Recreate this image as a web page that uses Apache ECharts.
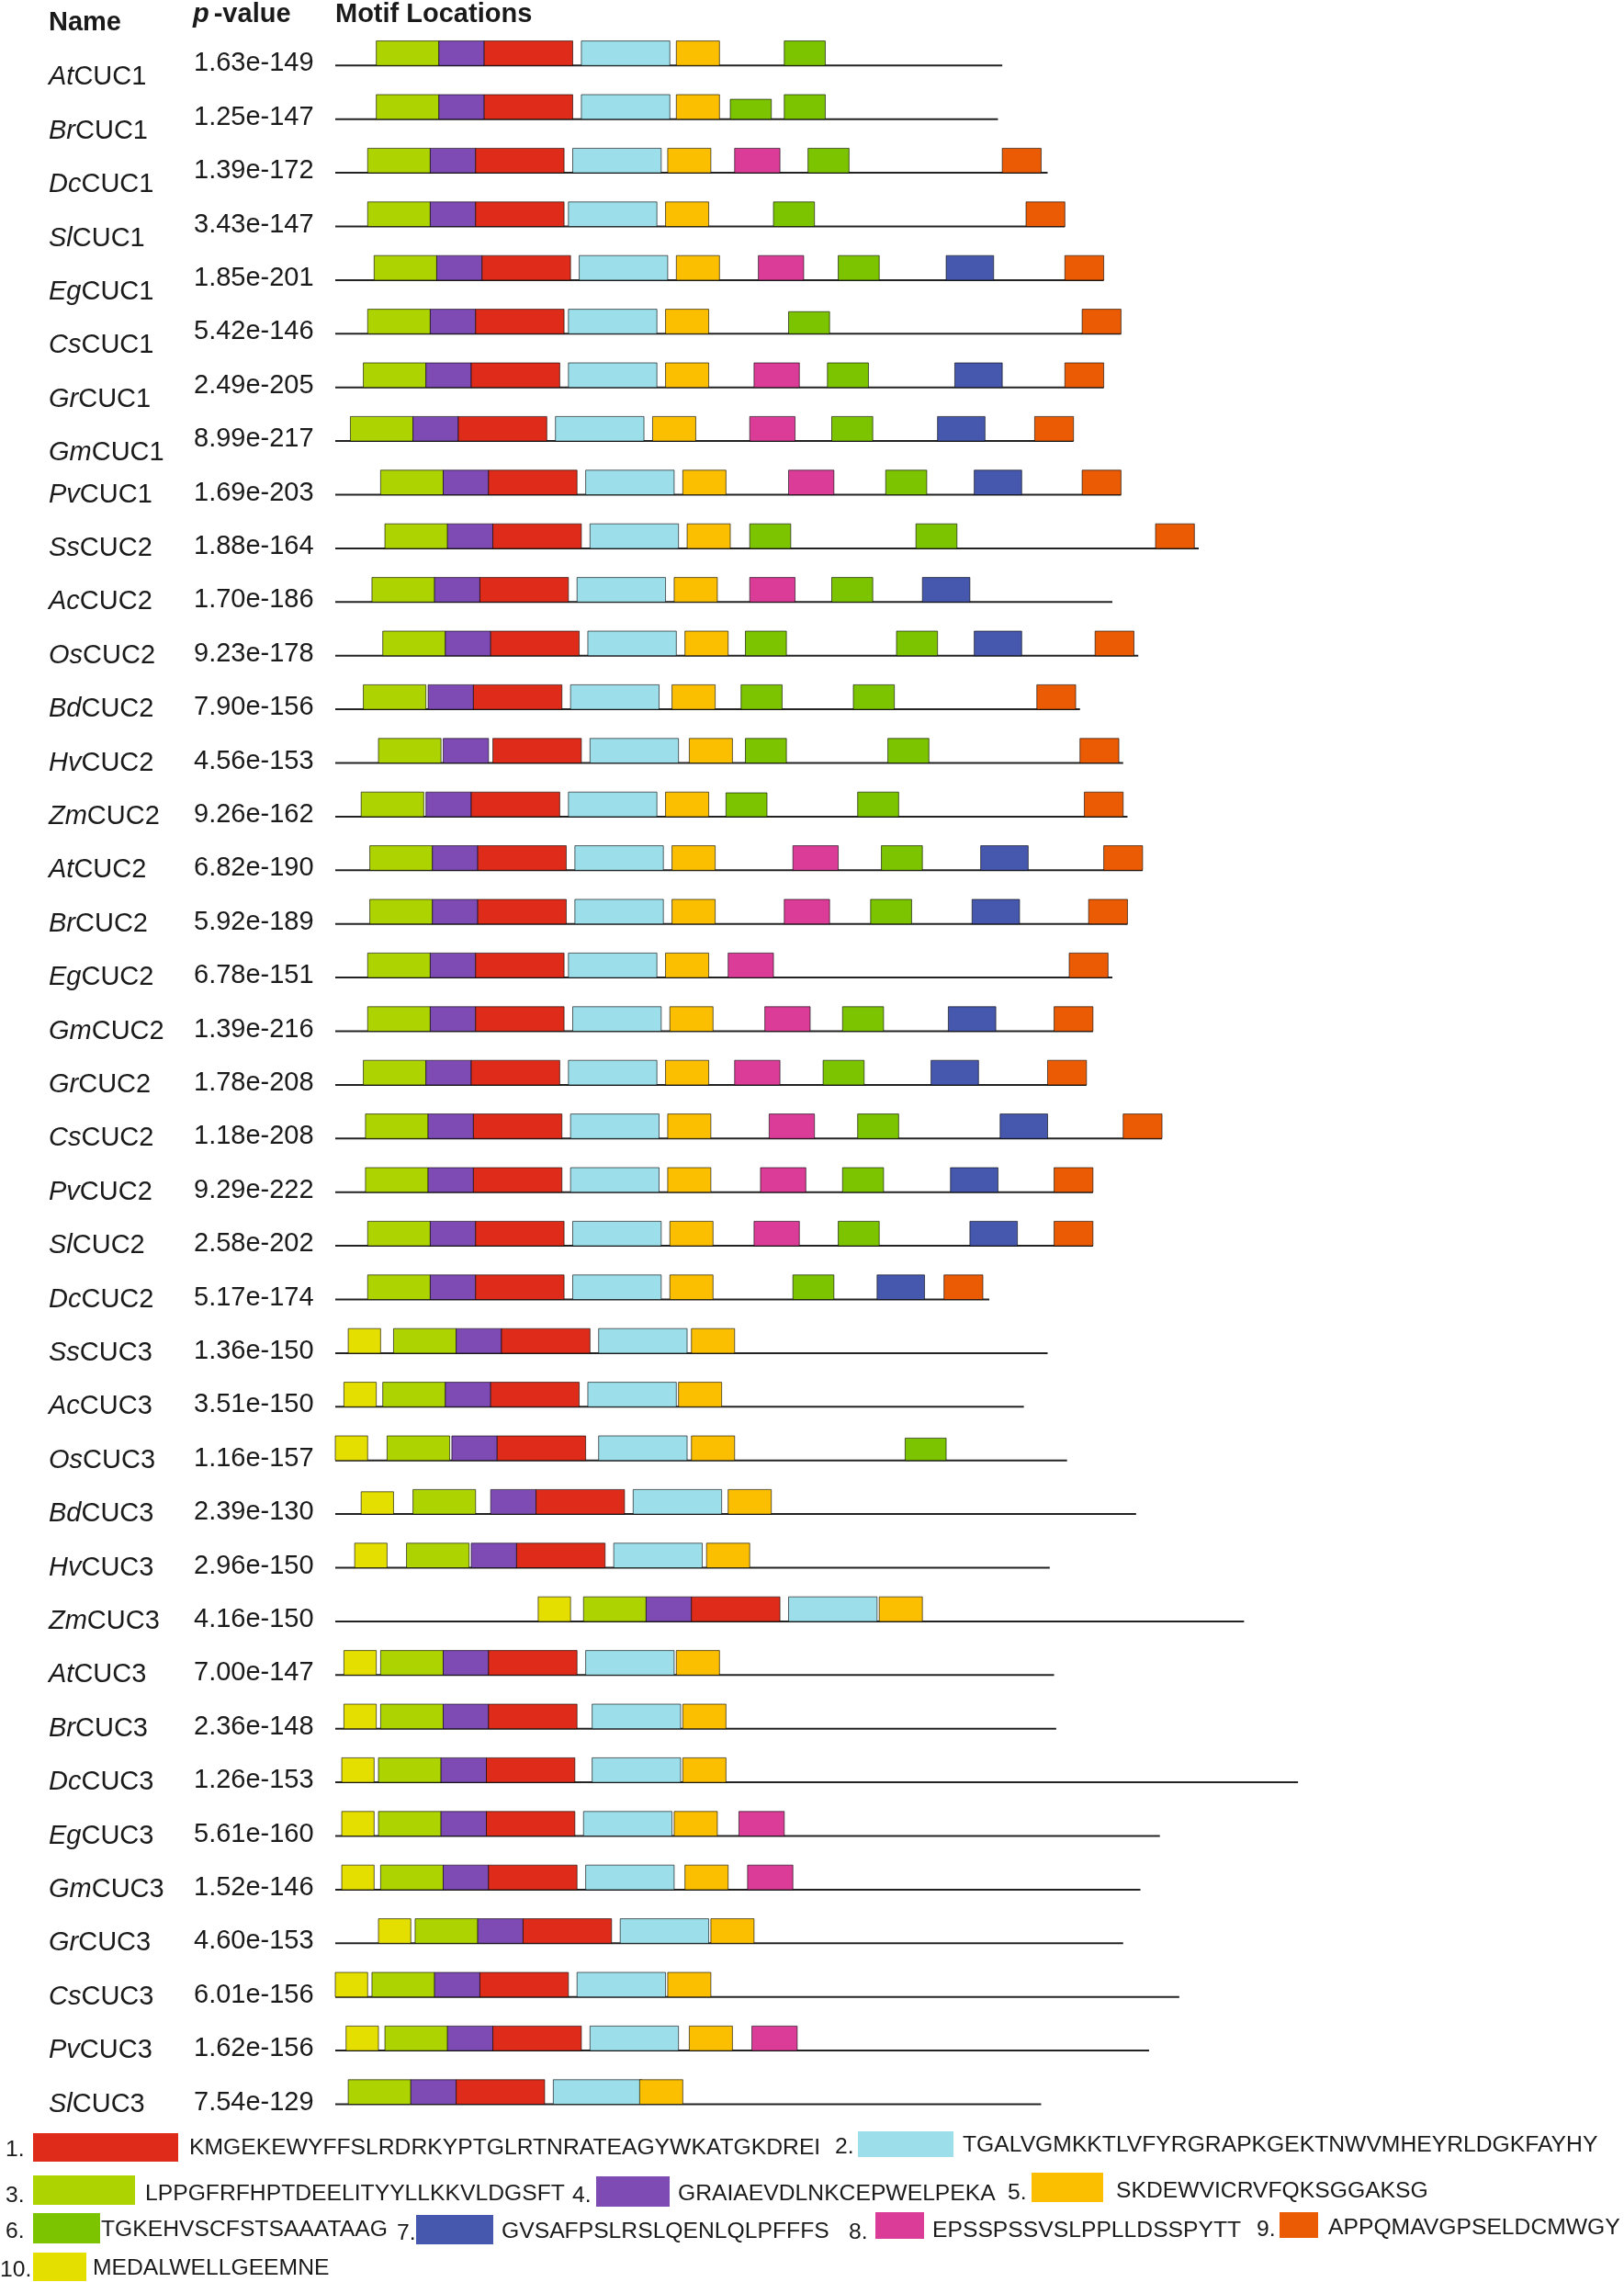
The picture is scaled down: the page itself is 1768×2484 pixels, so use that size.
<!DOCTYPE html>
<html><head><meta charset="utf-8">
<script src="https://cdn.jsdelivr.net/npm/echarts@6/dist/echarts.min.js"></script>
<style>html,body{margin:0;padding:0;background:#fff}#chart{width:1768px;height:2484px}</style>
</head><body><div id="chart"></div>
<script>
// ---------- DATA ----------
const motifNumbers = [1, 2, 3, 4, 5, 6, 7, 8, 9, 10];
const motifSequences = [
  'KMGEKEWYFFSLRDRKYPTGLRTNRATEAGYWKATGKDREI',
  'TGALVGMKKTLVFYRGRAPKGEKTNWVMHEYRLDGKFAYHY',
  'LPPGFRFHPTDEELITYYLLKKVLDGSFT',
  'GRAIAEVDLNKCEPWELPEKA',
  'SKDEWVICRVFQKSGGAKSG',
  'TGKEHVSCFSTSAAATAAG',
  'GVSAFPSLRSLQENLQLPFFFS',
  'EPSSPSSVSLPPLLDSSPYTT',
  'APPQMAVGPSELDCMWGY',
  'MEDALWELLGEEMNE'
];
const motifLengths = [41, 41, 29, 21, 20, 19, 22, 21, 18, 15];

// CUC1 group
const cuc1Species = ['At','Br','Dc','Sl','Eg','Cs','Gr','Gm','Pv'];
const cuc1PValues = ['1.63e-149','1.25e-147','1.39e-172','3.43e-147','1.85e-201','5.42e-146','2.49e-205','8.99e-217','1.69e-203'];
const cuc1Lengths = [309, 307, 330, 338, 356, 364, 356, 342, 364];
// sites: [motif, start(aa), relative height]
const cuc1Sites = [
  [[3,19],[4,48],[1,69],[2,114],[5,158],[6,208]],
  [[3,19],[4,48],[1,69],[2,114],[5,158],[6,183,0.81],[6,208]],
  [[3,15],[4,44],[1,65],[2,110],[5,154],[8,185],[6,219],[9,309]],
  [[3,15],[4,44],[1,65],[2,108],[5,153],[6,203],[9,320]],
  [[3,18],[4,47],[1,68],[2,113],[5,158],[8,196],[6,233],[7,283],[9,338]],
  [[3,15],[4,44],[1,65],[2,108],[5,153],[6,210,0.9],[9,346]],
  [[3,13],[4,42],[1,63],[2,108],[5,153],[8,194],[6,228],[7,287],[9,338]],
  [[3,7],[4,36],[1,57],[2,102],[5,147],[8,192],[6,230],[7,279],[9,324]],
  [[3,21],[4,50],[1,71],[2,116],[5,161],[8,210],[6,255],[7,296],[9,346]]
];

// CUC2 group
const cuc2Species = ['Ss','Ac','Os','Bd','Hv','Zm','At','Br','Eg','Gm','Gr','Cs','Pv','Sl','Dc'];
const cuc2PValues = ['1.88e-164','1.70e-186','9.23e-178','7.90e-156','4.56e-153','9.26e-162','6.82e-190','5.92e-189','6.78e-151','1.39e-216','1.78e-208','1.18e-208','9.29e-222','2.58e-202','5.17e-174'];
const cuc2Lengths = [400, 360, 372, 345, 365, 367, 374, 367, 360, 351, 348, 383, 351, 351, 303];
const cuc2Sites = [
  [[3,23],[4,52],[1,73],[2,118],[5,163],[6,192],[6,269],[9,380]],
  [[3,17],[4,46],[1,67],[2,112],[5,157],[8,192],[6,230],[7,272]],
  [[3,22],[4,51],[1,72],[2,117],[5,162],[6,190],[6,260],[7,296],[9,352]],
  [[3,13],[4,43],[1,64],[2,109],[5,156],[6,188],[6,240],[9,325]],
  [[3,20],[4,50],[1,73],[2,118],[5,164],[6,190],[6,256],[9,345]],
  [[3,12],[4,42],[1,63],[2,108],[5,153],[6,181,0.97],[6,242],[9,347]],
  [[3,16],[4,45],[1,66],[2,111],[5,156],[8,212],[6,253],[7,299],[9,356]],
  [[3,16],[4,45],[1,66],[2,111],[5,156],[8,208],[6,248],[7,295],[9,349]],
  [[3,15],[4,44],[1,65],[2,108],[5,153],[8,182],[9,340]],
  [[3,15],[4,44],[1,65],[2,110],[5,155],[8,199],[6,235],[7,284],[9,333]],
  [[3,13],[4,42],[1,63],[2,108],[5,153],[8,185],[6,226],[7,276],[9,330]],
  [[3,14],[4,43],[1,64],[2,109],[5,154],[8,201],[6,242],[7,308],[9,365]],
  [[3,14],[4,43],[1,64],[2,109],[5,154],[8,197],[6,235],[7,285],[9,333]],
  [[3,15],[4,44],[1,65],[2,110],[5,155],[8,194],[6,233],[7,294],[9,333]],
  [[3,15],[4,44],[1,65],[2,110],[5,155],[6,212],[7,251],[9,282]]
];

// CUC3 group
const cuc3Species = ['Ss','Ac','Os','Bd','Hv','Zm','At','Br','Dc','Eg','Gm','Gr','Cs','Pv','Sl'];
const cuc3PValues = ['1.36e-150','3.51e-150','1.16e-157','2.39e-130','2.96e-150','4.16e-150','7.00e-147','2.36e-148','1.26e-153','5.61e-160','1.52e-146','4.60e-153','6.01e-156','1.62e-156','7.54e-129'];
const cuc3Lengths = [330, 319, 339, 371, 331, 421, 333, 334, 446, 382, 373, 365, 391, 377, 327];
const cuc3Sites = [
  [[10,6],[3,27],[4,56],[1,77],[2,122],[5,165]],
  [[10,4],[3,22],[4,51],[1,72],[2,117],[5,159]],
  [[10,0],[3,24],[4,54],[1,75],[2,122],[5,165],[6,264,0.91]],
  [[10,12,0.91],[3,36],[4,72],[1,93],[2,138],[5,182]],
  [[10,9],[3,33],[4,63],[1,84],[2,129],[5,172]],
  [[10,94],[3,115],[4,144],[1,165],[2,210],[5,252]],
  [[10,4],[3,21],[4,50],[1,71],[2,116],[5,158]],
  [[10,4],[3,21],[4,50],[1,71],[2,119],[5,161]],
  [[10,3],[3,20],[4,49],[1,70],[2,119],[5,161]],
  [[10,3],[3,20],[4,49],[1,70],[2,115],[5,157],[8,187]],
  [[10,3],[3,21],[4,50],[1,71],[2,116],[5,162],[8,191]],
  [[10,20],[3,37],[4,66],[1,87],[2,132],[5,174]],
  [[10,0],[3,17],[4,46],[1,67],[2,112],[5,154]],
  [[10,5],[3,23],[4,52],[1,73],[2,118],[5,164],[8,193]],
  [[3,6],[4,35],[1,56],[2,101],[5,141]]
];

// ---------- STYLE ----------
const motifColors = ['#DF2C1A','#9CDEEA','#ADD400','#7E4AB4','#FBBF00','#7CC400','#4657AE','#DA3C97','#EB5B04','#E5DF00'];
const FONT = '"Liberation Sans", Arial, Helvetica, sans-serif';
const TXT = '#1a1a1a';
const BOX_H = 26.7;
const LEG_FONT = '24.7px ' + FONT;

// ---------- BUILD ----------
const rows = [];
[['CUC1', cuc1Species, cuc1PValues, cuc1Lengths, cuc1Sites],
 ['CUC2', cuc2Species, cuc2PValues, cuc2Lengths, cuc2Sites],
 ['CUC3', cuc3Species, cuc3PValues, cuc3Lengths, cuc3Sites]].forEach(([gene, sp, pv, len, sites]) => {
  sp.forEach((s, i) => rows.push({species: s, gene: gene, pValue: pv[i], length: len[i], sites: sites[i]}));
});

const backboneData = rows.map((r, i) => [0, i, r.length]);
const siteData = [];
rows.forEach((r, i) => r.sites.forEach(s => siteData.push([s[1], i, s[0], s[2] || 1])));
const labelData = rows.map((r, i) => [0, i]);

// legend layout (pixels)
const legendLayout = [
  {nx: 6,    bx: 36,   by: 2322, bw: 158, bh: 31, tx: 206,  cy: 2338},
  {nx: 909,  bx: 934,  by: 2320, bw: 104, bh: 28, tx: 1048, cy: 2335},
  {nx: 6,    bx: 36,   by: 2368, bw: 111, bh: 32, tx: 158,  cy: 2388},
  {nx: 623,  bx: 649,  by: 2369, bw: 80,  bh: 33, tx: 738,  cy: 2388},
  {nx: 1097, bx: 1123, by: 2365, bw: 78,  bh: 32, tx: 1215, cy: 2385},
  {nx: 6,    bx: 36,   by: 2409, bw: 73,  bh: 33, tx: 110,  cy: 2427},
  {nx: 432,  bx: 453,  by: 2411, bw: 84,  bh: 32, tx: 546,  cy: 2429},
  {nx: 924,  bx: 953,  by: 2408, bw: 53,  bh: 29, tx: 1015, cy: 2428},
  {nx: 1368, bx: 1393, by: 2408, bw: 42,  bh: 28, tx: 1446, cy: 2425},
  {nx: 0,    bx: 36,   by: 2452, bw: 58,  bh: 31, tx: 101,  cy: 2469}
];

const graphics = [
  {type: 'text', left: 53, top: 10, style: {text: 'Name', font: 'bold 29px ' + FONT, fill: TXT}},
  {type: 'text', left: 210, top: 1, style: {text: '{i|p}-value', font: 'bold 29px ' + FONT, fill: TXT,
    rich: {i: {fontStyle: 'italic', fontWeight: 'bold', fontSize: 29, fontFamily: FONT, fill: TXT, padding: [0, 5, 0, 0]}}}},
  {type: 'text', left: 365, top: 1, style: {text: 'Motif Locations', font: 'bold 29px ' + FONT, fill: TXT}}
];
legendLayout.forEach((L, k) => {
  graphics.push({type: 'text', x: L.nx, y: L.cy + 2, style: {text: motifNumbers[k] + '.', font: LEG_FONT, fill: TXT, verticalAlign: 'middle'}});
  graphics.push({type: 'rect', shape: {x: L.bx, y: L.by, width: L.bw, height: L.bh}, style: {fill: motifColors[k]}});
  graphics.push({type: 'text', x: L.tx, y: L.cy, style: {text: motifSequences[k], font: LEG_FONT, fill: TXT, verticalAlign: 'middle'}});
});

const chart = echarts.init(document.getElementById('chart'), null, {renderer: 'canvas'});
chart.setOption({
  animation: false,
  backgroundColor: '#ffffff',
  grid: {left: 365, top: 42.1, width: 1057.5, height: 2277.6},
  xAxis: {type: 'value', min: 0, max: 450, show: false},
  yAxis: {type: 'category', inverse: true, data: rows.map(r => r.species + r.gene), show: false},
  graphic: graphics,
  series: [
    {
      type: 'custom', name: 'backbone', clip: false, z: 2,
      data: backboneData, encode: {x: [0, 2], y: 1},
      renderItem: function (params, api) {
        const i = api.value(1);
        const a = api.coord([0, i]);
        const b = api.coord([api.value(2), i]);
        return {type: 'line', shape: {x1: a[0], y1: a[1], x2: b[0], y2: b[1]}, style: {stroke: '#222', lineWidth: 2}};
      }
    },
    {
      type: 'custom', name: 'motifs', clip: false, z: 3,
      data: siteData, encode: {x: 0, y: 1},
      renderItem: function (params, api) {
        const start = api.value(0), i = api.value(1), m = api.value(2), rel = api.value(3);
        const a = api.coord([start, i]);
        const b = api.coord([start + motifLengths[m - 1], i]);
        const h = BOX_H * rel;
        return {type: 'rect', shape: {x: a[0], y: a[1] - h, width: b[0] - a[0], height: h},
          style: {fill: motifColors[m - 1], stroke: 'rgba(0,0,0,0.6)', lineWidth: 1}};
      }
    },
    {
      type: 'custom', name: 'labels', clip: false, z: 4,
      data: labelData, encode: {x: 0, y: 1},
      renderItem: function (params, api) {
        const i = api.value(1);
        const y = api.coord([0, i])[1];
        const r = rows[i];
        return {type: 'group', children: [
          {type: 'text', x: 53, y: y + (i < 8 ? 13 : 0), style: {
            text: '{s|' + r.species + '}{g|' + r.gene + '}', verticalAlign: 'middle',
            rich: {
              s: {fontStyle: 'italic', fontSize: 29, fontFamily: FONT, fill: TXT},
              g: {fontSize: 29, fontFamily: FONT, fill: TXT}
            }}},
          {type: 'text', x: 211, y: y - 2, style: {text: r.pValue, fontSize: 29, fontFamily: FONT, fill: TXT, verticalAlign: 'middle'}}
        ]};
      }
    }
  ]
});
</script>
</body></html>
